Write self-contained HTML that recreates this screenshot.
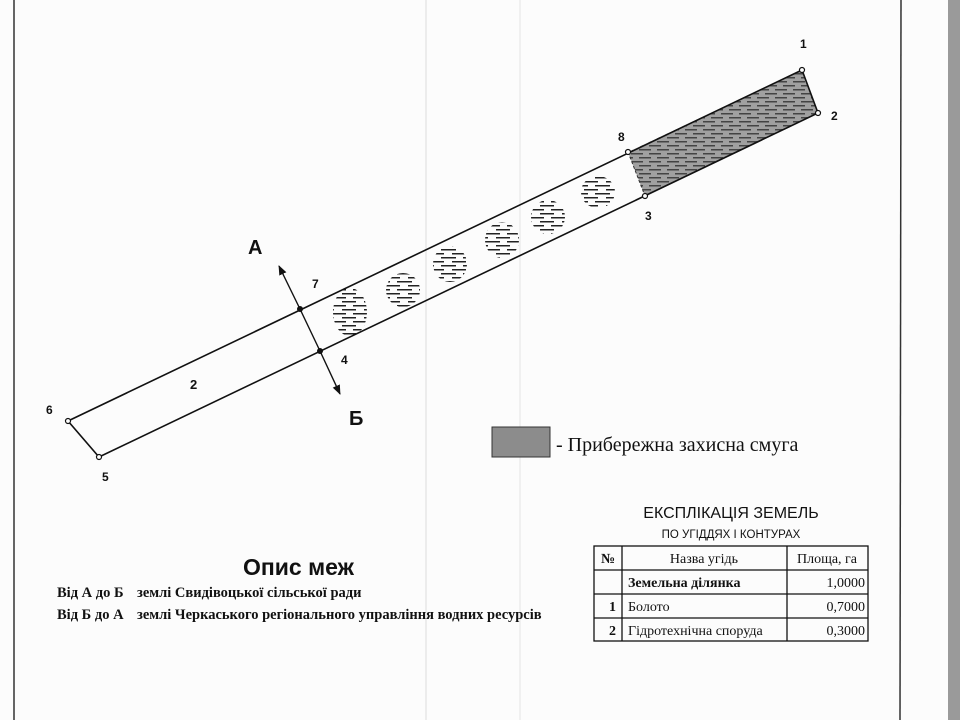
<!DOCTYPE html>
<html><head><meta charset="utf-8"><style>
html,body{margin:0;padding:0;background:#fff;}
svg{display:block;}
</style></head><body>
<svg width="960" height="720" viewBox="0 0 960 720" xmlns="http://www.w3.org/2000/svg">
<defs>
<pattern id="dash" width="22" height="8" patternUnits="userSpaceOnUse">
<rect x="1" y="1" width="15" height="1.5" fill="#222"/>
<rect x="12" y="5" width="14" height="1.5" fill="#222"/>
<rect x="-10" y="5" width="14" height="1.5" fill="#222"/>
</pattern>
<pattern id="dark" width="18" height="8" patternUnits="userSpaceOnUse">
<rect width="18" height="8" fill="#a0a0a0"/>
<rect x="1" y="1" width="12" height="1.5" fill="#444"/>
<rect x="9" y="5" width="12" height="1.5" fill="#444"/>
<rect x="-9" y="5" width="12" height="1.5" fill="#444"/>
</pattern>
<marker id="arr" viewBox="0 0 10 10" refX="9" refY="5" markerWidth="7" markerHeight="9" orient="auto"><path d="M0,1 L10,5 L0,9 z" fill="#111"/></marker>
</defs>
<rect width="960" height="720" fill="#fcfcfc"/>
<rect x="948" y="0" width="12" height="720" fill="#9a9a9a"/>
<line x1="14" y1="0" x2="14" y2="720" stroke="#333" stroke-width="1.5"/>
<line x1="901" y1="0" x2="900" y2="720" stroke="#333" stroke-width="1.5"/>
<line x1="426" y1="0" x2="426" y2="720" stroke="#ddd" stroke-width="1"/>
<line x1="520" y1="0" x2="520" y2="720" stroke="#e4e4e4" stroke-width="1"/>

<polygon points="628,152 802,70 818,113 645,196" fill="url(#dark)"/>
<g fill="url(#dash)">
<ellipse cx="350" cy="312" rx="17" ry="24"/>
<ellipse cx="403" cy="290" rx="17" ry="17"/>
<ellipse cx="450" cy="264" rx="17" ry="18"/>
<ellipse cx="502" cy="240" rx="17" ry="18"/>
<ellipse cx="548" cy="217" rx="17" ry="17"/>
<ellipse cx="598" cy="192" rx="17" ry="16"/>
</g>
<polygon points="68,421 802,70 818,113 99,457" fill="none" stroke="#111" stroke-width="1.6"/>
<line x1="628" y1="152" x2="645" y2="196" stroke="#333" stroke-width="1" stroke-dasharray="3,2"/>
<line x1="300" y1="309" x2="279" y2="266" stroke="#111" stroke-width="1.4" marker-end="url(#arr)"/>
<line x1="320" y1="351" x2="340" y2="394" stroke="#111" stroke-width="1.4" marker-end="url(#arr)"/>
<line x1="300" y1="309" x2="320" y2="351" stroke="#111" stroke-width="1.4"/>
<g fill="#fff" stroke="#111" stroke-width="1.2">
<circle cx="802" cy="70" r="2.5"/><circle cx="818" cy="113" r="2.5"/>
<circle cx="628" cy="152" r="2.5"/><circle cx="645" cy="196" r="2.5"/>
<circle cx="68" cy="421" r="2.5"/><circle cx="99" cy="457" r="2.5"/>
</g>
<circle cx="300" cy="309" r="3" fill="#111"/><circle cx="320" cy="351" r="3" fill="#111"/>
<g font-family="Liberation Sans, sans-serif" font-weight="bold" font-size="12" fill="#111">
<text x="800" y="48">1</text><text x="831" y="120">2</text>
<text x="618" y="141">8</text><text x="645" y="220">3</text>
<text x="312" y="288">7</text><text x="341" y="364">4</text>
<text x="46" y="414">6</text><text x="102" y="481">5</text>
<text x="190" y="389" font-size="13">2</text>
<text x="248" y="254" font-size="20">A</text>
<text x="349" y="425" font-size="20">Б</text>
</g>
<rect x="492" y="427" width="58" height="30" fill="#8c8c8c" stroke="#333" stroke-width="1"/>
<text x="556" y="451" font-family="Liberation Serif, serif" font-size="20" fill="#111">- Прибережна захисна смуга</text>

<text x="243" y="575" font-family="Liberation Sans, sans-serif" font-weight="bold" font-size="23" fill="#111">Опис меж</text>
<g font-family="Liberation Serif, serif" font-weight="bold" font-size="14.5" fill="#111">
<text x="57" y="597">Від А до Б</text><text x="137" y="597">землі Свидівоцької сільської ради</text>
<text x="57" y="619">Від Б до А</text><text x="137" y="619">землі Черкаського регіонального управління водних ресурсів</text>
</g>

<text x="731" y="518" text-anchor="middle" font-family="Liberation Sans, sans-serif" font-size="16" fill="#111">ЕКСПЛІКАЦІЯ  ЗЕМЕЛЬ</text>
<text x="731" y="538" text-anchor="middle" font-family="Liberation Sans, sans-serif" font-size="11.5" fill="#111">ПО УГІДДЯХ І КОНТУРАХ</text>
<g stroke="#111" stroke-width="1.3" fill="none">
<rect x="594" y="546" width="274" height="95"/>
<line x1="594" y1="570" x2="868" y2="570"/>
<line x1="594" y1="594" x2="868" y2="594"/>
<line x1="594" y1="618" x2="868" y2="618"/>
<line x1="622" y1="546" x2="622" y2="641"/>
<line x1="787" y1="546" x2="787" y2="641"/>
</g>
<g font-family="Liberation Serif, serif" font-size="14" fill="#111">
<text x="608" y="563" text-anchor="middle" font-weight="bold">№</text>
<text x="704" y="563" text-anchor="middle">Назва угідь</text>
<text x="827" y="563" text-anchor="middle">Площа, га</text>
<text x="628" y="587" font-weight="bold">Земельна ділянка</text>
<text x="865" y="587" text-anchor="end">1,0000</text>
<text x="616" y="611" text-anchor="end" font-weight="bold">1</text>
<text x="628" y="611">Болото</text>
<text x="865" y="611" text-anchor="end">0,7000</text>
<text x="616" y="635" text-anchor="end" font-weight="bold">2</text>
<text x="628" y="635">Гідротехнічна споруда</text>
<text x="865" y="635" text-anchor="end">0,3000</text>
</g>
</svg>
</body></html>
